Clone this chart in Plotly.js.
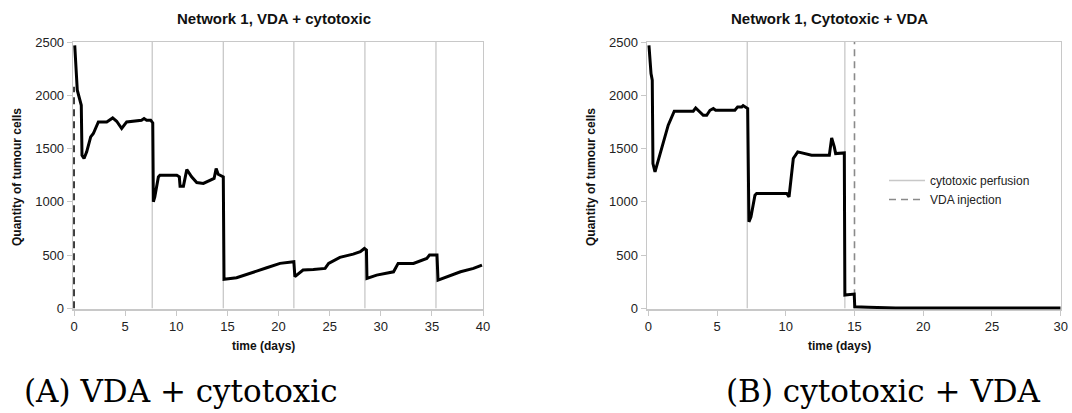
<!DOCTYPE html>
<html>
<head>
<meta charset="utf-8">
<script src="https://cdn.plot.ly/plotly-3.0.1.min.js"></script>
<style>html,body{margin:0;padding:0;background:#fff;}#chart{width:1072px;height:413px;}</style>
</head>
<body>
<div id="chart"></div>
<script>
// ---- data ----
const timeA = [0.07,0.2,0.32,0.71,0.78,0.98,1.24,1.63,1.89,2.38,3.2,3.78,4.17,4.66,5.15,6.6,6.85,7.1,7.5,7.7,
  7.76,7.9,8.25,8.4,10.05,10.3,10.37,10.7,11.03,11.5,12.0,12.65,13.47,13.7,13.9,14.1,14.6,
  14.67,15.9,17.5,18.85,20.15,21.5,
  21.6,22.4,23.4,24.56,24.9,26.0,27.3,28.0,28.4,28.6,
  28.65,29.6,31.25,31.7,33.2,34.5,34.77,35.5,
  35.6,36.5,37.8,39.07,39.9];
const cellsA = [2469,2235,2047,1906,1437,1406,1469,1609,1641,1750,1750,1787,1756,1688,1750,1766,1781,1766,1766,1740,
  1000,1047,1234,1250,1250,1234,1147,1147,1303,1234,1181,1172,1203,1219,1312,1259,1234,
  272,287,334,381,422,437,
  297,359,365,375,422,478,509,531,562,547,
  281,312,343,422,422,469,500,500,
  265,297,343,375,406];
const timeB = [0.05,0.2,0.29,0.34,0.49,0.73,1.09,1.45,1.89,3.27,3.45,3.69,4.0,4.25,4.49,4.73,4.9,6.3,6.5,6.8,6.9,7.23,
  7.32,7.47,7.76,7.88,10.07,10.24,10.36,10.55,10.87,11.88,13.17,13.34,13.53,13.63,14.26,
  14.3,14.98,15.02,16,17,18,30];
const cellsB = [2469,2203,2141,1359,1281,1391,1578,1719,1850,1850,1881,1850,1812,1812,1859,1875,1859,1859,1891,1891,1903,1875,
  812,859,1062,1078,1078,1047,1172,1406,1469,1437,1437,1600,1516,1453,1459,
  125,134,15,10,6,3,2];
const perfusionA = [7.65,14.6,21.5,28.45,35.4];
const perfusionB = [7.2,14.3];
const vdaA = [0];
const vdaATop = 2080;
const vdaB = [15];
const yTop = 2500;
const titleA = "Network 1, VDA + cytotoxic";
const titleB = "Network 1, Cytotoxic + VDA";
const xTitle = "time (days)";
const yTitle = "Quantity of tumour cells";
const captionA = "(A) VDA + cytotoxic";
const captionB = "(B) cytotoxic + VDA";

function vlines(xs, ylo, yhi){
  const x=[], y=[];
  xs.forEach(v=>{x.push(v,v,null); y.push(ylo,yhi,null);});
  return {x,y};
}

const W=1072,H=413;
const px=v=>v/W, py=v=>(H-v)/H;
const F="Liberation Sans, Arial, sans-serif";
const SERIF="DejaVu Serif, serif";

const pA=vlines(perfusionA,0,yTop), pB=vlines(perfusionB,0,yTop), dA=vlines(vdaA,0,vdaATop), dB=vlines(vdaB,0,yTop);

const traces=[
  {x:pA.x,y:pA.y,mode:'lines',line:{color:'#c8c8c8',width:1.3},xaxis:'x',yaxis:'y',showlegend:false,hoverinfo:'skip'},
  {x:dA.x,y:dA.y,mode:'lines',line:{color:'#111',width:1.6,dash:'7px,5px'},xaxis:'x',yaxis:'y',showlegend:false,hoverinfo:'skip'},
  {x:timeA,y:cellsA,mode:'lines',line:{color:'#000',width:3},xaxis:'x',yaxis:'y',showlegend:false},
  {x:pB.x,y:pB.y,mode:'lines',name:'cytotoxic perfusion',line:{color:'#c8c8c8',width:1.3},xaxis:'x2',yaxis:'y2',hoverinfo:'skip'},
  {x:dB.x,y:dB.y,mode:'lines',name:'VDA injection',line:{color:'#8a8a8a',width:1.6,dash:'7px,5px'},xaxis:'x2',yaxis:'y2',hoverinfo:'skip'},
  {x:timeB,y:cellsB,mode:'lines',line:{color:'#000',width:3},xaxis:'x2',yaxis:'y2',showlegend:false}
];

const axCommon={showgrid:false,zeroline:false,showline:true,linecolor:'#c8c8c8',linewidth:1.3,mirror:true,
  ticks:'outside',ticklen:5,tickcolor:'#c8c8c8',tickfont:{family:F,size:13,color:'#222'},layer:'below traces',fixedrange:true};

const yb=py(309.4), yt=py(42);
function ann(text,x,y,font,extra){
  return Object.assign({text,xref:'paper',yref:'paper',x:px(x),y:py(y),xanchor:'center',yanchor:'middle',showarrow:false,font},extra||{});
}
const tFont={family:F,size:15,color:'#111'};
const aFont={family:F,size:12,color:'#111'};
const cFont={family:SERIF,size:31,color:'#000'};
const layout={
  width:W,height:H,margin:{l:0,r:0,t:0,b:0},paper_bgcolor:'#fff',plot_bgcolor:'#fff',
  showlegend:true,
  legend:{x:px(884),y:py(166),xanchor:'left',yanchor:'top',itemwidth:36,bgcolor:'rgba(0,0,0,0)',font:{family:F,size:12,color:'#222'},tracegroupgap:0},
  xaxis:Object.assign({},axCommon,{domain:[px(73),px(483)],range:[-0.1,40],dtick:5,tick0:0,anchor:'y'}),
  yaxis:Object.assign({},axCommon,{domain:[yb,yt],range:[-10,yTop],dtick:500,tick0:0,anchor:'x'}),
  xaxis2:Object.assign({},axCommon,{domain:[px(646.9),px(1060.7)],range:[-0.1,30],dtick:5,tick0:0,anchor:'y2'}),
  yaxis2:Object.assign({},axCommon,{domain:[yb,yt],range:[-10,yTop],dtick:500,tick0:0,anchor:'x2'}),
  annotations:[
    ann('<b>'+titleA+'</b>',274,18,tFont),
    ann('<b>'+titleB+'</b>',829,18,tFont),
    ann('<b>'+xTitle+'</b>',263,346,aFont),
    ann('<b>'+xTitle+'</b>',839,346,aFont),
    ann('<b>'+yTitle+'</b>',17,177,aFont,{textangle:-90}),
    ann('<b>'+yTitle+'</b>',591,177,aFont,{textangle:-90}),
    ann(captionA,22,391,cFont,{xanchor:'left'}),
    ann(captionB,1043,391,cFont,{xanchor:'right'})
  ]
};
Plotly.newPlot('chart',traces,layout,{staticPlot:true,displayModeBar:false});
</script>
</body>
</html>
